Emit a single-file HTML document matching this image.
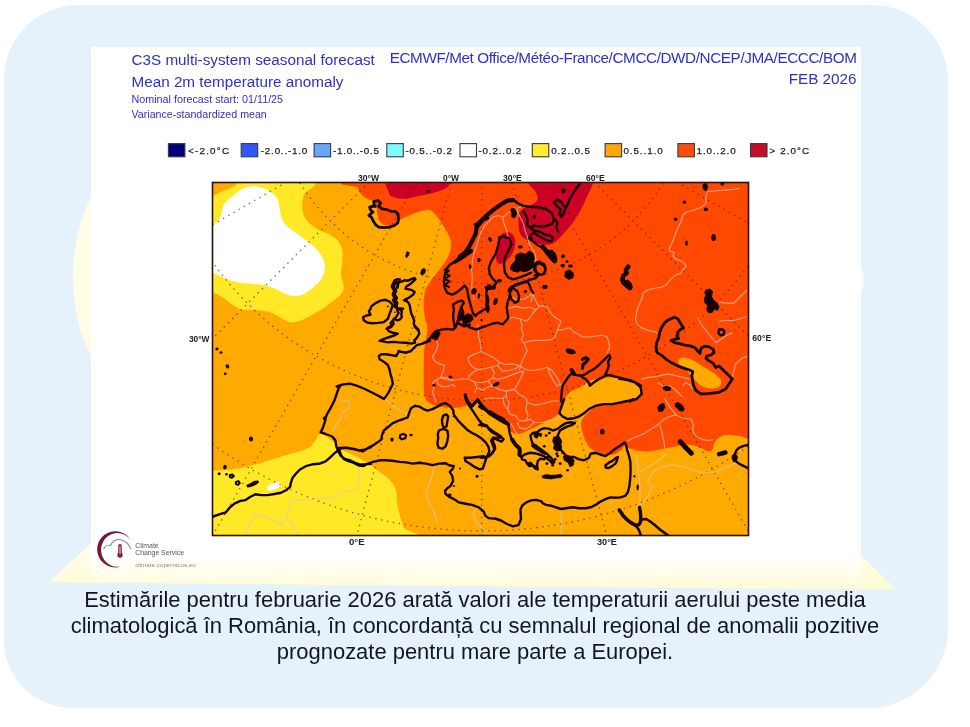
<!DOCTYPE html>
<html><head><meta charset="utf-8">
<style>
html,body{margin:0;padding:0;background:#fff;}
body{width:970px;height:727px;position:relative;overflow:hidden;font-family:"Liberation Sans",sans-serif;}
#bg{position:absolute;left:4.4px;top:4.6px;width:943.2px;height:703.6px;border-radius:74px 76px 80px 68px;background:#e5f1fb;filter:blur(0.5px);}
#main{position:absolute;left:0;top:0;width:970px;height:727px;}
.t,.cap{filter:blur(0.35px);}
.t{position:absolute;white-space:nowrap;color:#3030c8;line-height:1;}
.cap{position:absolute;left:0;width:950px;text-align:center;color:#15151f;font-size:21.95px;line-height:1;white-space:nowrap;}
</style></head><body>
<div id="bg"></div>
<svg id="main" width="970" height="727" viewBox="0 0 970 727">
<defs>
<linearGradient id="yg" gradientUnits="userSpaceOnUse" x1="0" y1="544" x2="0" y2="589"><stop offset="0" stop-color="#fffeec"/><stop offset="1" stop-color="#fffbd6"/></linearGradient>
<linearGradient id="yg2" gradientUnits="userSpaceOnUse" x1="0" y1="556" x2="0" y2="588"><stop offset="0" stop-color="#ffffff"/><stop offset="0.45" stop-color="#fffef0"/><stop offset="1" stop-color="#fffbd6"/></linearGradient>
<clipPath id="mapclip"><rect x="213" y="183" width="535" height="352"/></clipPath>
<filter id="b1" x="-2%" y="-2%" width="104%" height="104%"><feGaussianBlur stdDeviation="0.55"/></filter>
<filter id="b2" x="-5%" y="-5%" width="110%" height="110%"><feGaussianBlur stdDeviation="0.35"/></filter>
</defs>
<!-- pale yellow decorations -->
<ellipse cx="131" cy="277" rx="58" ry="109" fill="#fffde6"/>
<ellipse cx="823" cy="280" rx="41" ry="32" fill="#fffdf2"/>
<polygon points="90,544.5 48.5,582.2 896,589.6 861,555.5" fill="url(#yg)"/>
<rect x="91" y="47" width="770" height="511" fill="#ffffff"/>
<polygon points="91,556 861,556 861,589.3 91,582.6" fill="url(#yg2)"/>
<!--MAP-->
<g id="map" filter="url(#b1)">
<rect x="213" y="183" width="535" height="352" fill="#ffaa02"/>
<g clip-path="url(#mapclip)" id="regions">
<path d="M205.0,200.0C208.3,198.3 214.6,195.2 220.0,192.5C225.4,189.8 234.5,187.5 237.4,183.7C240.3,180.0 224.5,172.3 237.4,170.0C250.3,167.7 301.9,167.5 314.8,170.0C327.7,172.5 316.4,181.0 314.8,185.0C313.1,188.9 306.9,190.4 304.8,193.7C302.7,197.0 302.3,201.0 302.3,204.9C302.3,208.9 302.7,213.7 304.8,217.4C306.9,221.2 311.0,224.7 314.8,227.4C318.5,230.1 323.5,231.6 327.3,233.6C331.0,235.7 334.7,237.2 337.2,239.9C339.7,242.6 341.4,246.1 342.2,249.9C343.1,253.6 342.4,258.2 342.2,262.3C342.0,266.5 340.8,271.1 341.0,274.8C341.2,278.5 343.3,281.9 343.5,284.8C343.7,287.7 343.7,289.8 342.2,292.3C340.8,294.8 337.7,297.3 334.7,299.8C331.8,302.2 328.5,304.7 324.8,307.2C321.0,309.7 316.4,312.4 312.3,314.7C308.1,317.0 303.6,319.7 299.8,321.0C296.1,322.2 293.2,322.8 289.8,322.2C286.5,321.6 283.2,318.9 279.9,317.2C276.5,315.6 274.0,313.5 269.9,312.2C265.7,311.0 259.5,310.1 254.9,309.7C250.3,309.3 246.2,310.6 242.4,309.7C238.7,308.9 235.8,306.8 232.4,304.7C229.1,302.7 225.8,299.3 222.5,297.3C219.1,295.2 216.2,293.5 212.5,292.3C208.7,291.0 202.1,304.7 200.0,289.8C197.9,274.8 199.2,217.4 200.0,202.4C200.8,187.5 201.7,201.6 205.0,200.0Z" fill="#ffe926"/>
<path d="M202.5,227.4C204.2,219.7 209.6,226.6 212.5,224.9C215.4,223.2 218.1,220.7 220.0,217.4C221.8,214.1 221.6,208.5 223.7,204.9C225.8,201.4 229.3,198.9 232.4,196.2C235.6,193.5 238.7,190.4 242.4,188.7C246.2,187.1 250.7,186.0 254.9,186.2C259.1,186.4 263.6,187.9 267.4,190.0C271.1,192.0 275.3,195.4 277.4,198.7C279.4,202.0 279.0,206.4 279.9,209.9C280.7,213.5 280.7,216.8 282.3,219.9C284.0,223.0 286.5,225.7 289.8,228.6C293.2,231.6 298.1,234.3 302.3,237.4C306.5,240.5 311.5,244.0 314.8,247.4C318.1,250.7 320.6,254.0 322.3,257.3C323.9,260.7 324.8,264.0 324.8,267.3C324.8,270.6 323.9,274.2 322.3,277.3C320.6,280.4 317.7,283.3 314.8,286.0C311.9,288.7 308.1,291.8 304.8,293.5C301.5,295.2 298.1,296.0 294.8,296.0C291.5,296.0 288.2,294.8 284.8,293.5C281.5,292.3 278.6,290.0 274.9,288.5C271.1,287.1 267.0,285.6 262.4,284.8C257.8,283.9 252.4,284.2 247.4,283.5C242.4,282.9 236.6,282.1 232.4,281.0C228.3,280.0 225.8,278.7 222.5,277.3C219.1,275.9 215.8,273.8 212.5,272.8C209.2,271.8 204.2,278.6 202.5,271.1C200.8,263.5 200.8,235.1 202.5,227.4Z" fill="#ffffff"/>
<path d="M200.0,470.3C202.1,458.7 207.5,470.4 212.5,470.3C217.5,470.2 223.7,470.5 230.0,469.8C236.2,469.1 243.7,467.5 249.9,466.0C256.1,464.6 261.1,462.9 267.4,461.0C273.6,459.2 281.1,456.7 287.3,454.8C293.6,452.9 300.6,451.5 304.8,449.8C309.0,448.1 310.2,446.9 312.3,444.8C314.4,442.7 315.8,439.2 317.3,437.3C318.7,435.5 319.4,433.6 321.0,433.6C322.7,433.6 325.0,435.7 327.3,437.3C329.5,439.0 332.7,441.7 334.7,443.6C336.8,445.4 337.2,446.9 339.7,448.6C342.2,450.2 346.4,451.9 349.7,453.6C353.0,455.2 356.4,456.7 359.7,458.5C363.0,460.4 366.3,462.5 369.7,464.8C373.0,467.1 376.3,469.8 379.7,472.3C383.0,474.8 386.9,476.8 389.6,479.8C392.3,482.7 394.6,486.0 395.9,489.7C397.1,493.5 396.5,498.0 397.1,502.2C397.7,506.4 398.6,510.5 399.6,514.7C400.7,518.8 402.5,523.0 403.4,527.2C404.2,531.3 438.5,537.6 404.6,539.6C370.7,541.7 234.1,551.2 200.0,539.6C165.9,528.1 197.9,481.8 200.0,470.3Z" fill="#ffe926"/>
<path d="M267.4,486.7C268.1,485.7 270.5,484.2 272.4,483.5C274.2,482.7 277.1,482.1 278.6,482.2C280.1,482.4 281.1,483.3 281.1,484.2C281.1,485.2 280.1,486.7 278.6,487.7C277.1,488.7 274.2,489.9 272.4,490.2C270.6,490.6 268.7,490.3 267.9,489.7C267.0,489.1 266.6,487.8 267.4,486.7Z" fill="#ffffff"/>
<path d="M355.9,180.0C321.4,185.3 356.9,185.2 357.7,187.5C358.5,189.8 359.4,191.8 360.9,193.7C362.5,195.6 364.9,197.3 367.2,198.7C369.5,200.1 373.1,200.5 374.7,201.9C376.2,203.4 376.2,205.7 376.7,207.4C377.1,209.2 376.7,210.1 377.2,212.4C377.7,214.7 378.0,219.0 379.7,221.2C381.3,223.4 384.4,225.4 387.1,225.6C389.8,225.9 393.0,223.8 395.9,222.4C398.8,221.0 401.1,219.1 404.6,217.4C408.1,215.8 412.9,213.7 417.1,212.4C421.2,211.2 426.4,209.4 429.6,209.9C432.7,210.4 434.2,213.3 436.1,215.4C438.1,217.5 439.3,219.6 441.1,222.4C443.0,225.2 445.7,229.1 447.4,232.4C449.0,235.7 450.7,239.0 451.1,242.4C451.5,245.7 450.9,249.0 449.9,252.3C448.8,255.7 447.0,259.0 444.9,262.3C442.8,265.7 439.9,269.0 437.4,272.3C434.9,275.6 432.0,279.0 429.9,282.3C427.8,285.6 426.0,288.5 424.9,292.3C423.9,296.0 423.7,300.6 423.7,304.7C423.7,308.9 424.3,313.5 424.9,317.2C425.5,321.0 427.2,323.5 427.4,327.2C427.6,330.9 426.7,335.9 426.2,339.7C425.6,343.4 424.6,345.4 424.2,349.7C423.8,353.9 423.8,359.9 423.7,365.0C423.6,370.0 423.6,375.4 423.7,380.0C423.8,384.5 423.5,388.9 424.2,392.4C424.8,396.0 425.2,398.9 427.4,401.2C429.6,403.4 433.2,405.0 437.4,406.1C441.6,407.3 447.8,408.1 452.4,408.1C456.9,408.1 461.5,407.1 464.8,406.1C468.2,405.2 469.8,402.6 472.3,402.4C474.8,402.2 476.9,403.0 479.8,404.9C482.7,406.8 486.5,411.1 489.8,413.6C493.1,416.1 496.7,418.1 499.8,419.9C502.9,421.7 506.8,422.7 508.5,424.4C510.2,426.0 508.7,428.3 509.8,429.9C510.8,431.4 512.9,433.0 514.7,433.6C516.6,434.2 518.7,434.2 521.0,433.6C523.3,433.0 525.8,431.1 528.5,429.9C531.2,428.6 534.1,427.6 537.2,426.1C540.3,424.7 543.8,423.0 547.2,421.1C550.5,419.2 555.1,417.0 557.2,414.9C559.2,412.8 558.6,410.9 559.7,408.6C560.7,406.4 561.7,403.9 563.4,401.2C565.1,398.5 566.9,394.7 569.6,392.4C572.3,390.1 575.8,389.5 579.6,387.4C583.4,385.4 587.8,381.6 592.4,380.0C597.1,378.3 602.4,377.7 607.4,377.5C612.4,377.2 617.8,377.9 622.4,378.7C627.0,379.5 631.7,380.8 634.9,382.4C638.0,384.1 640.5,386.4 641.1,388.7C641.7,391.0 640.5,394.3 638.6,396.2C636.7,398.0 633.0,398.9 629.9,399.9C626.8,400.9 623.6,401.8 619.9,402.4C616.1,403.0 611.2,403.0 607.4,403.7C603.7,404.3 600.3,404.9 597.4,406.1C594.5,407.4 592.2,409.3 590.0,411.1C587.7,413.0 585.2,415.5 583.7,417.4C582.3,419.2 581.4,419.9 581.2,422.4C581.0,424.9 581.6,429.0 582.5,432.3C583.3,435.7 584.5,439.4 586.2,442.3C587.9,445.2 589.7,447.9 592.4,449.8C595.1,451.7 599.1,452.7 602.4,453.6C605.8,454.4 609.5,455.2 612.4,454.8C615.3,454.4 617.8,452.5 619.9,451.1C622.0,449.6 623.2,446.5 624.9,446.1C626.5,445.7 627.4,447.7 629.9,448.6C632.4,449.4 636.1,450.6 639.9,451.1C643.6,451.5 648.2,451.5 652.3,451.1C656.5,450.6 660.6,449.4 664.8,448.6C669.0,447.7 673.1,446.7 677.3,446.1C681.4,445.4 686.0,444.6 689.8,444.8C693.5,445.0 696.8,446.3 699.7,447.3C702.6,448.4 705.1,450.6 707.2,451.1C709.3,451.5 711.0,451.3 712.2,449.8C713.5,448.4 713.5,444.4 714.7,442.3C715.9,440.2 717.6,438.6 719.7,437.3C721.8,436.1 723.8,435.0 727.2,434.8C730.5,434.6 736.0,435.5 739.7,436.1C743.3,436.7 744.7,438.2 748.9,438.6C753.0,439.0 762.0,485.8 764.6,438.6C767.2,391.4 797.9,202.6 764.6,155.4C731.3,108.2 633.1,151.3 565.0,155.4C496.9,159.5 390.5,174.6 355.9,180.0Z" fill="#ff4802"/>
<path d="M678.5,360.0C679.4,358.7 682.1,357.3 684.8,357.5C687.5,357.7 691.4,359.6 694.7,361.2C698.1,362.9 701.4,365.4 704.7,367.5C708.0,369.6 712.0,371.6 714.7,373.7C717.4,375.8 720.1,377.9 720.9,380.0C721.8,382.0 721.1,384.7 719.7,386.2C718.2,387.6 715.1,388.7 712.2,388.7C709.3,388.7 705.1,387.6 702.2,386.2C699.3,384.7 697.2,382.4 694.7,380.0C692.2,377.5 689.8,373.7 687.3,371.2C684.8,368.7 681.2,366.9 679.8,365.0C678.3,363.1 677.7,361.2 678.5,360.0Z" fill="#ffaa02"/>
<path d="M388.7,170.0C378.3,173.8 387.7,187.9 388.7,192.5C389.8,197.0 392.3,196.4 395.0,197.5C397.7,198.5 401.2,198.9 405.0,198.7C408.7,198.5 413.3,197.0 417.4,196.2C421.6,195.4 425.8,194.8 429.9,193.7C434.1,192.7 439.1,191.6 442.4,190.0C445.7,188.3 448.4,187.1 449.9,183.7C451.3,180.4 461.3,172.3 451.1,170.0C440.9,167.7 399.1,166.3 388.7,170.0Z" fill="#cc0426"/>
<path d="M528.5,170.0C517.7,172.3 527.9,180.3 529.0,183.7C530.0,187.1 533.2,188.2 534.7,190.5C536.2,192.8 537.7,195.4 537.7,197.5C537.7,199.5 536.9,201.3 534.7,202.9C532.5,204.6 527.2,205.9 524.7,207.4C522.2,209.0 520.8,209.9 519.7,212.4C518.7,214.9 518.5,219.1 518.5,222.4C518.5,225.7 518.7,229.7 519.7,232.4C520.8,235.1 522.2,237.0 524.7,238.6C527.2,240.3 531.4,241.3 534.7,242.4C538.0,243.4 541.4,244.9 544.7,244.9C548.0,244.9 551.3,244.4 554.7,242.4C558.0,240.3 561.3,236.1 564.6,232.4C568.0,228.6 571.7,224.1 574.6,219.9C577.5,215.8 580.1,211.2 582.1,207.4C584.1,203.7 585.3,200.4 586.6,197.5C587.9,194.5 589.1,192.3 590.1,190.0C591.1,187.7 592.0,187.1 592.6,183.7C593.2,180.4 604.3,172.3 593.6,170.0C582.9,167.7 539.2,167.7 528.5,170.0Z" fill="#cc0426"/>
<path d="M498.5,239.9C499.4,238.0 500.4,234.9 502.3,233.6C504.1,232.4 507.7,231.8 509.8,232.4C511.8,233.0 513.9,234.9 514.7,237.4C515.6,239.9 515.6,244.0 514.7,247.4C513.9,250.7 511.8,254.6 509.8,257.3C507.7,260.0 504.3,262.7 502.3,263.6C500.2,264.4 498.3,263.8 497.3,262.3C496.2,260.9 496.0,257.8 496.0,254.8C496.0,251.9 496.9,247.4 497.3,244.9C497.7,242.4 497.7,241.7 498.5,239.9Z" fill="#cc0426"/>
</g>
<g clip-path="url(#mapclip)" id="lines">
<path d="M385.1,95.3L-194.4,250.6M395.1,119.4L-124.5,419.4M411.0,140.1L-13.3,564.4M431.7,156.0L131.7,675.6M455.8,166.0L300.5,745.5M481.7,169.4L481.7,769.4M507.6,166.0L662.9,745.5M531.7,156.0L831.7,675.6M552.4,140.1L976.7,564.4M568.3,119.4L1087.9,419.4M578.3,95.3L1157.8,250.6M20.2,69.4A461.5,461.5 0 0 0 943.2,69.4M150.6,69.4A331.1,331.1 0 0 0 812.8,69.4M267.5,69.4A214.2,214.2 0 0 0 695.9,69.4M376.5,69.4A105.2,105.2 0 0 0 586.9,69.4" fill="none" stroke="#3c2000" stroke-opacity="0.6" stroke-width="1.55" stroke-dasharray="0.1 5.9" stroke-linecap="round"/>
<path d="M435.7,338.3L438.2,344.9L435.7,351.5L432.4,356.4L434.9,361.4L439.8,363.9L444.8,365.5L443.1,371.3L440.6,377.9L446.4,379.5L453.0,380.4M432.4,382.8L436.5,379.5L441.5,377.1L447.2,377.9L453.0,380.4L458.0,379.5L462.9,378.7L467.9,379.5L469.5,375.4L474.5,371.3L477.8,369.6M436.5,379.5L438.2,384.5L443.1,387.0L448.1,386.1L453.0,384.5L455.5,387.0M432.4,382.8L434.0,387.8L432.4,392.7L434.9,397.7L435.7,402.7M477.8,323.4L478.6,336.6L480.3,343.2L481.1,350.6M467.9,358.1L472.8,354.8L481.1,351.5L487.7,354.8L494.3,358.1L499.3,362.2L497.6,365.5L491.0,367.2L484.4,368.8L477.8,369.6L472.8,367.2L469.5,363.0L467.9,358.1M491.0,367.2L494.3,372.9L492.7,377.9L487.7,381.2L481.1,382.8L474.5,382.0L469.5,379.5M499.3,362.2L505.9,364.7L512.5,363.9L519.1,365.5M497.6,365.5L502.6,371.3L509.2,370.5L515.8,368.8L519.1,365.5M492.7,377.9L497.6,379.5L505.9,377.1L512.5,374.6L519.1,372.1L524.0,371.3M519.1,365.5L525.7,369.6L533.9,370.5L542.2,368.8L547.1,367.2L552.1,370.5L557.1,377.9L560.4,384.5L562.8,387.8M547.1,367.2L550.4,374.6L553.8,381.2L557.1,386.1L560.4,384.5M524.0,371.3L520.7,377.9L517.4,384.5L514.1,389.4M487.7,381.2L492.7,386.1L499.3,389.4L505.9,391.1L514.1,389.4L519.1,394.4L525.7,397.7L527.3,402.7L535.6,405.1L543.8,403.5L552.1,401.0L558.7,401.0L562.8,402.7M474.5,382.0L477.0,387.8L482.7,390.3L487.7,387.0L492.7,386.1M477.0,387.8L474.5,392.7M484.4,399.4L489.4,397.7L496.0,398.5L502.6,398.5L505.9,396.1L506.7,391.9L505.9,391.1M527.3,402.7L525.7,409.3L528.2,415.9L525.7,420.8M505.9,396.1L509.2,402.7L507.5,409.3L510.0,414.2L515.8,415.9L519.1,420.8L525.7,420.8L530.6,419.2L533.9,422.5L542.2,422.5L550.4,420.0L557.1,419.2L560.4,415.9L565.3,416.7M502.6,398.5L504.2,404.3L507.5,409.3M509.2,422.5L512.5,425.8L514.9,430.7L517.4,434.0M517.4,422.5L519.1,427.4L525.7,429.1L530.6,425.8L533.9,422.5M514.5,207.2L511.2,210.5L507.1,213.9L502.9,217.2L503.8,222.9L506.2,229.5L507.9,236.1L508.7,240.3M502.9,217.2L498.0,215.5L493.0,217.2L488.9,221.3L484.8,225.4L481.5,231.2L479.0,237.8L476.5,246.1L474.0,252.7L472.4,260.9L471.6,269.2L472.4,277.4L471.6,285.7L473.2,293.9L474.0,300.0M521.1,206.4L517.0,208.1L517.8,213.0L521.1,218.8L523.6,224.6L525.2,231.2L527.7,237.8L529.4,244.4L532.7,249.4L535.1,254.3L536.0,259.3L534.3,264.2L531.8,269.2L529.4,272.5M529.4,280.7L530.2,287.3L532.7,293.9L531.0,302.2M508.1,318.8L513.0,317.2L519.6,318.8L526.2,321.3L529.5,318.0L532.8,313.0L536.1,309.7L539.4,306.4L542.7,305.6L547.7,307.2L549.4,311.4L552.7,315.5L557.6,318.8L560.9,321.3L559.3,325.4L557.6,329.5L560.9,330.4L565.9,328.7L570.0,327.9L572.5,331.2L577.4,333.7L582.4,337.0L589.0,337.0L595.6,336.1L602.2,335.3L607.1,337.0L608.8,341.9L609.6,347.7L608.0,351.0L606.3,353.5M519.6,318.8L522.1,324.6L521.3,329.5L523.8,334.5L521.3,339.4L523.8,342.7L525.4,346.1L527.1,351.0L524.6,356.0L522.1,360.9L520.5,365.9L519.6,370.0M523.8,342.7L529.5,341.1L537.8,340.3L546.1,340.3L552.7,339.4L555.1,337.0L557.6,329.5M511.4,297.3L518.0,299.8L524.6,299.0L529.5,295.7L532.8,292.9M532.8,292.9L534.5,298.2L537.0,303.1L539.4,306.4M508.9,308.1L515.5,306.4L522.9,308.1L529.5,307.2L536.1,309.7M738.9,188.3L735.6,189.1L727.3,189.9L717.4,190.7L707.5,191.6L705.9,196.5L705.9,203.1L702.6,206.4L697.6,208.9L692.7,210.5L686.1,212.2L682.7,215.5L681.1,221.3L677.8,227.9L675.3,234.5L672.8,241.1L669.5,247.7L669.5,251.0L674.5,252.7L672.8,256.0L676.1,259.3L681.1,260.9L684.4,263.4L686.1,266.7L682.7,270.0L681.1,273.3L676.1,274.9L672.8,277.4L669.5,280.7L666.2,284.9L661.3,287.3L654.7,288.2L648.1,289.8L643.1,293.1L641.5,300.0M641.5,299.8L638.2,306.4L636.5,313.0L635.7,319.6L637.3,324.6L641.5,327.9L648.1,330.4L654.7,332.0L659.6,333.7M747.1,289.9L740.5,296.5L733.9,303.1L725.7,303.1L719.1,302.3M697.6,318.0L702.6,326.2L709.2,334.5L715.8,342.7L720.7,339.4L725.7,336.1L732.3,332.8M719.1,321.3L725.7,320.5L733.9,320.5L740.5,318.8L747.1,316.3M747.1,356.0L740.5,359.3L735.6,364.2L733.9,370.8L732.3,377.4M641.5,379.1L648.1,377.4L656.3,376.6L662.9,374.9L669.5,374.1L676.1,375.8L682.7,377.4L689.4,379.1M658.0,382.4L662.9,385.7L669.5,385.7L674.5,389.0L679.4,393.9L682.7,397.2M682.7,385.7L686.1,382.4L691.0,385.7L692.7,389.0M627.4,441.3L633.2,438.0L639.8,435.5L646.4,432.2L653.0,428.1L658.0,424.8L662.9,419.8L669.5,416.5L676.1,414.9L669.5,406.6L664.6,398.3M659.6,424.8L662.1,433.0L663.8,441.3L664.6,447.9M676.1,414.9L682.7,418.2L691.0,419.0L693.5,424.8L692.7,431.4L696.0,436.3L702.6,439.6L709.2,440.5L713.3,439.6M341.0,399.9L348.5,401.2L349.7,407.4L342.2,412.4L339.7,419.9L334.7,427.4L332.2,432.3M383.4,397.4L394.6,407.4L407.1,413.6M359.4,467.1L358.6,477.8L357.8,491.0L347.1,491.0L338.8,492.7L335.5,496.8L325.6,498.4L317.3,499.3L302.5,500.1L292.6,500.9L288.4,507.5L286.8,515.8L281.8,524.9L271.1,519.1L255.4,513.8L249.6,524.0L244.7,535.6M286.8,515.8L292.6,525.7L299.2,535.6M434.1,466.1L432.5,474.3L430.0,482.6L425.9,492.5L429.2,502.4L434.1,512.3L437.4,522.2M561.0,507.0L561.5,520.0L561.0,536.0M478.0,506.0L473.0,513.0L476.0,522.0L484.0,530.0L486.0,536.0M636.1,454.8L637.4,464.8L638.6,474.8L639.9,484.7L639.9,494.7L639.9,507.2M639.9,507.2L647.3,497.2L652.3,487.2L647.3,482.2L652.3,472.3L659.8,467.3L672.3,464.8L684.8,467.3L699.7,472.3L714.7,472.3L727.2,467.3L737.2,462.3M639.9,472.3L649.8,466.0L659.8,459.8L666.0,453.6" fill="none" stroke="#d2cac2" stroke-opacity="0.68" stroke-width="1.15" stroke-linejoin="round"/>
<path d="M444.8,269.8L448.9,270.6L445.6,273.9L449.7,275.6L444.8,278.9L449.4,281.4L445.1,284.7L448.9,287.2M229.8,475.3L232.3,474.5L233.9,476.1L231.8,477.8L229.8,477.0L229.8,475.3M235.9,481.9L238.4,481.1L239.7,483.1L238.1,484.9L235.9,484.1L235.9,481.9" fill="none" stroke="#140500" stroke-width="2.0" stroke-linejoin="round" stroke-linecap="round"/>
<path d="M554.1,218.8L557.4,222.9L556.6,227.9L558.2,232.0M400.3,435.0L403.6,433.9L406.1,435.5L405.2,438.3L401.9,439.3L399.8,437.6L400.3,435.0" fill="none" stroke="#140500" stroke-width="2.2" stroke-linejoin="round" stroke-linecap="round"/>
<path d="M371.4,306.4L375.5,303.1L380.5,300.6L385.4,299.8L389.5,301.5L392.8,304.8L391.2,309.7L389.5,313.9L387.9,318.8L383.8,322.1L378.0,322.9L372.2,323.3L367.2,322.6L363.9,320.5L363.1,317.2L366.4,315.5L370.5,314.7L368.9,311.4L370.5,308.9L371.4,306.4M394.8,280.7L397.3,279.1L399.8,279.5L398.9,282.4L401.4,281.6L404.7,280.3L408.0,280.7L411.3,279.1L414.6,277.9L415.5,279.1L413.0,281.6L410.9,283.6L408.8,284.9L406.4,286.5L405.5,288.6L408.8,289.4L412.1,290.2L414.6,291.9L413.4,294.4L411.3,296.0L408.8,297.7L406.4,298.9L403.9,300.2L406.4,301.0L408.4,302.6L409.7,305.5L410.5,309.7L411.3,313.8L413.0,317.1L414.2,320.4L413.8,323.7L415.0,327.0L417.9,330.1M415.1,326.2L418.4,329.5L419.3,333.7L416.8,337.8L414.3,340.3L415.1,342.7L411.0,343.6L406.1,342.7L399.4,342.4L392.8,341.9L387.9,342.4L382.9,341.4L379.6,340.8L384.6,338.6L389.5,337.0L394.5,335.3L397.8,333.7L392.8,332.8L388.7,331.2L387.1,328.7L391.2,327.1L393.7,323.8L392.8,320.5L396.1,317.2L398.6,313.0L397.0,309.7M397.3,308.0L399.8,309.3L401.8,311.3L401.4,314.6L401.8,317.1L399.8,319.6L397.3,320.4L394.0,318.8L392.3,321.2L390.7,322.9L391.5,325.4L389.0,327.0L386.5,328.7M395.6,306.4L397.7,308.2L403.1,308.8M430.0,340.8L422.6,343.6L416.8,345.2L414.3,347.7L411.0,351.0L406.1,352.7L401.1,351.8L398.6,351.0L397.8,353.5L396.1,356.0L391.2,355.1L386.2,354.3L381.3,354.3L378.8,356.0L379.6,359.3L383.8,361.7L387.9,365.0L389.5,369.2L390.4,374.1L392.0,379.1L392.8,384.0L391.2,387.3L388.7,392.3L385.4,397.2L383.8,398.9L378.0,395.6L371.4,392.3L364.8,389.0L356.5,385.7L349.9,383.7L343.3,384.4L336.7,386.5M420.0,344.5L426.6,341.6L432.4,335.9L435.7,331.2L441.5,329.6L447.2,328.9L453.0,329.6L455.5,327.6L457.2,322.7L458.8,317.7L459.6,311.9L461.3,307.0L463.8,302.8L462.1,300.4L457.2,302.0L453.0,304.5L453.9,309.4L453.0,316.1L453.9,322.7L454.7,327.6M461.3,307.0L463.3,312.7L462.6,319.4L464.6,324.3L469.5,327.3L476.1,329.6L481.1,327.6L486.1,326.0L492.7,323.5L497.6,322.7L502.6,324.3L505.9,321.0L508.3,317.7L507.5,312.7L506.7,307.8L507.5,302.8L509.2,297.9L510.0,292.9L509.2,289.6L512.5,288.0L517.4,291.3L519.1,296.2L518.2,301.2L514.9,302.8L511.6,299.5L510.0,294.6M469.5,251.7L464.6,255.0L458.8,258.3L453.9,262.4L449.7,264.9L446.4,269.0L444.8,274.8L443.9,281.4L444.8,288.0L447.2,292.9L452.2,294.6L457.2,292.1L461.3,288.8L464.6,285.5L467.1,288.8L467.9,294.6L469.5,301.2L471.2,307.0L472.8,312.7L475.3,316.1L477.8,313.6L481.9,311.1L486.1,308.6L487.7,304.5L486.9,298.7L486.1,292.9L487.7,288.8L492.7,287.2M534.8,275.1L538.1,275.6L535.6,278.1L530.6,279.7L525.7,281.4L520.7,283.0L514.9,284.7L510.8,287.2L509.2,289.6M535.6,264.9L539.7,263.2L543.8,265.7L545.8,269.8L543.8,273.9L539.7,274.8L536.4,272.3L535.3,268.2L535.6,264.9M458.3,257.6L465.8,251.8L469.9,246.1L473.2,239.4L476.5,232.8L477.3,227.1L480.6,221.3L484.8,217.2L489.7,212.2L495.5,208.1L501.3,203.9L507.1,200.1L512.8,199.8L517.0,202.8L522.7,205.6L529.4,206.8L537.6,207.2L545.9,208.9L551.6,212.7L554.1,218.3L552.5,223.3L547.5,225.7L540.9,226.6L534.3,225.7L530.2,227.6L526.9,224.6L527.7,220.5L526.1,215.5L523.6,211.4M530.2,227.6L533.5,230.4L539.3,231.5L545.0,234.8L550.5,235.5L552.8,238.1L551.6,241.4L546.7,240.3L541.7,237.5L537.6,235.3L534.3,232.8L531.0,234.5L529.4,237.8L532.7,241.1L537.6,245.2L542.6,247.7L545.9,252.7L550.0,257.6L554.1,261.7M579.7,184.1L576.4,188.3L573.1,193.2L570.3,198.2L568.2,203.1L565.7,208.1L563.7,213.0L561.6,216.7L559.1,213.9L560.7,209.7L557.4,206.4L554.1,202.3L557.4,199.8L561.6,202.3L564.0,206.4M498.8,237.8L502.9,236.1L509.5,238.6L511.5,244.4L508.2,251.0L504.9,257.6L503.9,264.2L504.9,272.5L508.2,277.4L513.2,279.4L519.8,277.4L526.4,274.9L531.3,272.5M499.6,238.1L498.0,246.1L495.5,254.3L491.4,260.9L488.9,267.5L489.7,274.1L493.0,279.1L496.7,282.4L493.0,287.3L486.4,289.0M535.1,263.4L539.3,261.7L544.2,264.2L545.9,269.2L543.4,274.1L539.3,274.9L535.1,271.6L533.5,267.5L535.1,263.4M560.9,401.4L561.7,392.3L562.6,385.7L565.9,380.7L569.2,375.8L572.5,372.5L575.8,374.9L580.7,375.8L585.7,374.1L589.0,371.6L593.9,369.2L598.9,365.0L603.0,360.9L607.1,356.8L609.6,355.1L610.4,357.6L608.0,361.7L608.8,365.9L607.1,370.8L605.5,374.1L607.1,374.9L612.1,375.8L618.7,377.4L625.3,379.1L631.9,380.7L636.9,383.2L641.0,385.7M582.4,377.4L585.7,379.1L589.0,383.2L589.8,385.7L593.9,382.4L598.9,379.1L603.8,376.6L607.1,374.9M509.7,289.9L514.7,285.8L521.3,283.3L527.9,281.7L529.5,285.0L531.2,289.9L533.2,292.9M211.7,517.1L219.9,514.1L225.7,512.5L229.8,507.5L234.8,503.4L240.5,500.9L245.5,500.1L250.5,496.8L255.4,494.3L261.2,495.1L267.8,495.1L274.4,494.0L281.0,492.7L286.0,490.2L290.1,486.9L290.9,482.7L292.6,477.8L295.9,473.7L300.0,469.5L305.8,466.2L312.4,464.3L319.0,463.8L325.6,461.3L330.5,457.2L334.7,453.0L338.0,450.5L340.4,455.5L344.6,458.8L350.4,460.5L355.3,462.9L360.3,464.6L365.2,464.3L371.0,463.8M325.6,419.2L323.9,425.0L322.3,429.1L320.6,432.4L325.6,434.0L332.2,436.5L335.5,440.6L336.3,446.4L338.0,450.5L342.1,448.1L347.1,447.7L353.7,448.9L359.4,450.5L364.4,449.7L371.0,447.2M339.2,447.9L345.0,447.6L351.6,448.7L358.2,450.4L363.1,451.2L368.1,447.9L373.0,445.4L377.2,442.6L381.3,439.6L382.1,434.7L383.8,430.5L387.9,427.2L392.8,423.1L398.6,420.6L403.6,419.0L407.7,417.3L409.4,412.4L411.0,408.3L415.1,405.8L419.3,406.6L423.4,409.1L427.5,410.7L432.5,409.1L437.4,406.6L441.6,404.1L445.7,403.3L449.8,405.8L453.1,409.9L453.9,414.9L456.4,418.2L458.9,421.5L463.0,425.6L467.1,429.7L472.1,433.0L477.1,435.5L482.0,438.8L486.1,442.9L488.6,447.1L489.4,451.2L487.8,454.5L486.1,457.8L489.4,456.1L492.7,452.8L495.2,448.7L494.4,444.6L492.7,441.3L494.4,438.0L501.0,437.2M467.1,399.2L468.8,405.0L472.1,409.9L475.4,414.9L478.7,419.8L482.0,423.9L487.0,425.6L488.6,428.9L491.9,432.2L496.9,434.7L501.0,436.3M339.2,449.5L340.8,454.5L343.3,458.6L348.3,461.1L353.2,462.7L358.2,465.2L363.1,466.1L368.1,463.6L373.0,461.9L379.6,460.3L386.2,460.3L392.8,460.8L399.4,461.9L406.1,462.4L412.7,463.6L419.3,462.7L425.9,463.6L432.5,465.2L439.1,463.6L445.7,463.2L449.0,465.2L453.9,466.1L452.3,469.4L449.8,471.8L452.3,476.0L453.1,480.9L450.6,485.9L447.3,488.3L444.9,490.8L445.7,494.1L449.0,496.6L453.9,499.1L458.9,502.4L465.5,503.7L472.1,504.9L478.7,507.3L483.7,511.5L485.3,515.6L488.6,518.1L494.4,518.6M443.2,415.7L446.5,414.5L448.2,416.5L447.3,421.5L446.5,426.4L444.0,428.1L442.4,424.8L442.0,419.8L443.2,415.7M439.1,430.5L443.2,428.9L447.3,430.5L448.2,435.5L447.3,441.3L445.7,446.2L442.4,448.7L438.7,447.9L437.4,443.8L438.2,438.0L437.8,433.9L439.1,430.5M464.7,457.8L470.4,457.8L477.1,457.0L483.7,456.1L486.1,458.6L484.5,463.6L482.8,468.5L479.5,469.4L474.6,466.9L469.6,463.6L465.5,461.1L464.7,457.8M341.0,384.9L338.5,388.7L337.2,392.4L334.7,399.9L331.0,407.4L327.3,413.6L324.8,419.4M479.2,424.8L486.6,426.4L493.2,431.4L499.8,435.5L503.6,439.3L501.5,441.6L496.5,439.3L493.2,437.6L491.2,440.5L492.9,445.4L494.5,449.5L491.6,453.7L487.4,457.0L482.5,457.8L479.2,457.0M479.2,406.6L485.0,409.9L491.6,414.9L498.2,418.2L504.8,420.6L508.1,423.1L508.9,428.1L509.7,433.0L511.4,438.8L514.7,443.8L518.8,447.9L520.5,451.2L518.8,455.3L521.3,457.0L524.6,454.5L529.5,452.8L534.5,453.2L539.4,454.5L543.6,456.1L546.1,457.8L543.6,459.4L540.3,458.6L537.8,461.1L537.0,465.2L537.8,469.4L535.3,468.5L532.8,465.2L529.5,466.1L527.1,463.6L525.4,460.3L522.1,459.4L521.3,457.0M546.1,457.8L549.4,460.3L552.7,463.6L554.3,461.9L551.0,457.8L547.7,454.5L544.4,452.0L541.1,449.5L536.1,447.1L532.8,443.8L531.2,439.6L530.4,435.5L532.8,433.0L537.0,432.2L540.3,429.7L544.4,428.1L549.4,428.9L552.7,430.5L557.6,428.9L561.7,425.6L565.9,423.1L570.8,422.3L574.9,423.1L572.5,424.8L567.5,426.4L562.6,428.9L560.1,430.5M605.5,465.2L608.8,462.7L612.1,461.1L616.2,457.8L617.9,457.0L617.1,460.3L615.4,463.6L612.1,466.1L608.8,468.0L605.8,467.7L605.5,465.2M564.2,399.2L562.6,403.3L560.9,408.3L559.3,413.2L562.6,416.5L567.5,419.0L574.1,418.2L579.1,416.5L584.0,413.2L589.0,409.1L595.6,405.8L603.8,404.1L612.1,404.1L620.4,402.5L628.6,400.8L633.6,399.2M560.1,430.5L557.6,435.5L560.9,441.3L559.3,447.9L563.4,452.8L567.5,457.0L574.1,457.0L579.1,459.4L584.0,460.3L589.0,457.8L590.6,453.7L595.6,452.8L600.5,454.5L605.5,456.1L610.4,452.8L615.4,448.7L620.4,445.4L624.5,442.6L626.1,444.6L627.0,449.5L628.6,454.5L630.3,461.1L630.6,469.4L630.3,477.6L629.4,485.9L627.8,492.5L625.3,495.8L620.4,497.4L615.4,497.8L610.4,497.4L605.5,499.1L600.5,501.6L595.6,504.9L590.6,507.3L585.7,508.2L579.1,508.2L572.5,507.3L565.9,508.2L560.9,509.0L556.0,507.3L551.0,505.7L546.1,504.9L542.7,503.2L541.1,501.1L536.1,499.9L531.2,500.4L526.2,502.4L522.1,505.7L520.5,509.8M495.0,518.5L501.0,520.5L507.0,524.0L513.0,526.3L518.5,525.0L521.0,519.0L520.5,511.0M749.6,444.3L743.0,446.2L738.9,447.9L736.4,450.4L733.9,456.1L734.8,460.3L738.9,463.6L743.8,466.1L749.6,469.0M719.1,329.5L722.4,329.2L724.4,331.5L723.7,334.5L720.7,335.3L718.4,333.2L719.1,329.5M619.2,378.7L626.6,379.9L634.9,382.4L640.6,387.3L641.8,393.9L636.5,399.2L629.9,401.4" fill="none" stroke="#140500" stroke-width="2.4" stroke-linejoin="round" stroke-linecap="round"/>
<path d="M635.9,525.4L638.8,529.7L640.4,533.9L641.4,536.7M640.8,519.8L646.2,519.0L649.5,521.0L654.5,524.8L660.2,529.7L666.0,533.9L669.8,536.7" fill="none" stroke="#140500" stroke-width="2.6" stroke-linejoin="round" stroke-linecap="round"/>
<path d="M373.9,201.5L378.0,200.6L380.5,203.1L378.8,206.4L382.1,208.9L387.1,209.7L391.2,211.4L395.3,211.4L397.8,213.9L398.6,218.8L397.8,222.9L394.5,225.4L389.5,227.1L383.8,227.6L378.8,227.1L375.5,224.6L373.0,220.5L371.4,217.2L368.9,215.5L370.5,213.9L373.0,212.2L370.5,209.7L369.7,207.2L372.2,206.4L375.5,206.4L373.9,203.9L373.9,201.5M674.5,317.2L677.8,318.8L680.3,322.9L683.6,327.9L680.3,329.5L677.8,332.0L677.0,336.1L678.6,338.6L674.5,339.4L671.2,340.3L674.5,342.7L679.4,343.6L685.2,345.2L691.0,346.1L695.1,347.7L697.6,351.0L700.1,353.5L700.9,348.5L704.2,346.1L709.2,346.9L713.3,349.4L714.1,352.7L710.8,355.1L706.7,356.0L705.9,358.4L709.2,360.9L713.3,363.4L715.8,367.5L719.1,365.9L722.4,369.2L727.3,374.1L732.3,379.1L729.0,384.0L725.7,389.0L719.1,392.3L712.5,393.1L705.9,393.9L700.9,393.9L696.0,390.6L693.5,385.7L692.7,380.7L691.8,375.8L692.7,371.6L689.4,370.0L684.4,368.3L677.8,365.9L671.2,362.6L666.2,359.3L661.3,355.1L657.2,352.7L656.0,347.7L656.7,342.7L658.8,337.8L659.6,332.8L661.3,327.9L664.6,322.9L668.7,319.6L674.5,317.2" fill="none" stroke="#140500" stroke-width="2.8" stroke-linejoin="round" stroke-linecap="round"/>
<path d="M398.1,282.4L397.3,287.4M458.8,323.5L463.8,326.0L469.5,325.1M488.0,299.5L487.4,304.5L488.4,309.1M487.4,296.5L486.6,304.8L487.9,311.4" fill="none" stroke="#140500" stroke-width="3.0" stroke-linejoin="round" stroke-linecap="round"/>
<path d="M582.4,359.3L585.7,357.6L588.2,359.3L585.7,362.6L583.2,364.2L582.4,368.3" fill="none" stroke="#140500" stroke-width="3.2" stroke-linejoin="round" stroke-linecap="round"/>
<path d="M465.3,394.9L466.8,401.2L471.8,406.1L475.3,402.4L477.8,399.9L481.1,404.9L489.8,413.6L499.8,419.9L508.5,424.4M639.6,507.4L640.4,512.4L640.8,517.3L640.4,522.3L638.9,524.6L635.9,525.4" fill="none" stroke="#140500" stroke-width="3.4" stroke-linejoin="round" stroke-linecap="round"/>
<path d="M619.3,509.9L621.0,512.4L623.1,515.7L626.4,519.0L629.7,521.9L633.0,523.9L635.9,525.4" fill="none" stroke="#140500" stroke-width="3.6" stroke-linejoin="round" stroke-linecap="round"/>
<path d="M455.5,261.6L459.6,259.1L463.3,256.6L467.9,253.3L471.2,250.8M475.7,224.6L479.8,223.8L483.1,219.6L487.2,218.0M571.6,370.0L574.1,374.1M512.2,439.6L515.5,444.6L519.6,448.7L519.6,454.5M622.5,280.0L625.0,283.3L627.4,286.6L630.7,287.4L629.9,284.1L627.4,281.7" fill="none" stroke="#140500" stroke-width="4.0" stroke-linejoin="round" stroke-linecap="round"/>
<path d="M395.2,281.2L392.7,286.5L395.2,290.7L393.6,294.8L396.0,298.1L394.0,300.2L396.3,303.1L395.6,306.4M460.0,256.3L465.0,252.7L469.1,246.9L472.4,240.3L475.7,233.7L476.5,227.9L479.8,222.1L484.8,217.2L490.5,212.2L496.3,207.7L502.1,203.6L507.9,200.3L513.2,200.1" fill="none" stroke="#140500" stroke-width="4.2" stroke-linejoin="round" stroke-linecap="round"/>
<path d="M432.4,336.7L435.7,332.6L438.2,333.4L435.7,338.3M542.6,246.9L546.7,251.0L550.8,256.0L554.9,260.9M489.9,412.4L496.5,416.5L503.1,419.8M719.1,454.2L725.4,452.5M628.3,266.7L625.8,270.0L626.6,273.3L623.3,275.8L622.5,279.1L624.1,283.2L627.4,285.7L629.9,288.2" fill="none" stroke="#140500" stroke-width="4.5" stroke-linejoin="round" stroke-linecap="round"/>
<path d="M512.8,210.5L514.5,213.0L513.7,215.5M680.3,441.6L684.4,446.2L689.4,451.2L691.3,453.2" fill="none" stroke="#140500" stroke-width="5" stroke-linejoin="round" stroke-linecap="round"/>
<path d="M406.9,251.8L409.4,252.7L408.5,255.1L406.9,257.6L405.6,256.8L406.1,254.3ZM421.7,270.0L425.0,269.2L424.2,272.5L421.7,274.9L420.6,273.3ZM458.3,313.6L461.3,311.9L463.3,315.2L462.1,319.4L459.6,321.0L457.6,317.7ZM463.8,316.1L467.9,313.6L472.0,315.2L473.2,319.4L469.5,322.7L465.4,323.5L463.3,320.2ZM512.5,264.0L515.8,259.9L519.1,255.8L523.2,254.1L527.3,255.0L530.6,253.3L533.9,256.6L532.3,261.6L533.9,265.7L530.6,269.8L525.7,271.5L520.7,270.6L517.4,272.3L513.3,270.6L510.0,268.2ZM548.0,250.8L552.1,250.0L555.4,253.3L557.1,259.1L554.6,263.2L551.3,260.7L548.8,256.6ZM565.3,271.5L569.4,269.8L573.6,273.1L572.7,278.1L568.6,279.4L565.3,276.4ZM516.1,255.1L520.3,252.7L525.2,254.3L529.4,251.0L533.5,253.5L534.3,259.3L532.7,265.9L528.5,270.0L523.6,271.6L518.6,270.0L513.7,271.6L510.4,269.2L512.0,264.2L516.1,261.7L515.3,257.6ZM565.9,350.2L570.0,349.0L574.1,350.7L575.4,353.0L571.6,354.0L567.5,353.0ZM620.4,280.0L624.5,280.8L628.6,283.3L631.9,286.6L629.4,289.1L625.3,286.6L622.0,284.1ZM485.0,286.6L489.9,285.8L495.7,286.6L494.9,289.1L489.1,289.6L485.0,288.6ZM246.7,485.2L250.5,483.6L253.8,481.4L257.9,480.8L258.7,482.4L255.4,484.7L251.3,486.4L247.6,487.2ZM533.7,433.9L537.8,432.7L541.9,433.9L541.1,436.7L538.6,435.5L537.0,438.3L534.5,437.2ZM532.0,443.3L536.1,444.6L540.3,447.9L544.4,451.2L546.1,454.5L542.7,453.7L538.6,451.2L534.5,448.7L531.5,446.2ZM553.5,437.2L557.6,436.3L560.9,439.6L559.3,442.9L561.7,446.2L560.9,450.4L556.8,451.2L553.5,448.7L554.3,444.6L552.7,441.3ZM563.4,456.1L567.5,455.3L571.6,457.0L574.1,460.3L573.3,465.2L570.0,466.9L568.3,462.7L564.2,460.3ZM527.9,462.7L531.2,461.9L533.7,465.2L537.0,466.1L537.8,469.7L535.3,469.0L532.0,466.4L528.7,466.1ZM541.9,476.0L546.1,474.6L551.0,475.3L556.0,475.1L560.9,474.3L562.6,476.0L560.9,477.6L556.0,477.9L551.0,478.9L546.1,478.4L542.7,477.9ZM657.6,407.4L660.5,404.1L663.8,403.6L664.9,407.4L662.6,411.2L658.8,411.6ZM675.3,403.3L678.6,402.5L682.7,405.8L684.4,409.6L681.9,411.6L677.8,409.1L675.3,406.3ZM732.3,455.3L735.6,453.7L737.6,457.0L736.4,461.1L733.6,461.9L732.0,458.6ZM705.9,289.9L710.0,289.1L712.5,291.6L711.6,296.5L713.3,299.8L717.4,303.1L719.1,307.2L717.4,310.5L714.1,308.9L712.5,312.2L709.2,313.0L706.7,309.7L707.5,305.6L705.0,303.1L704.2,299.0L705.9,294.9L705.0,292.4ZM663.3,387.0L667.1,386.0L670.9,387.7L670.4,390.3L666.2,390.6L663.3,389.3ZM703.4,184.1L706.7,183.6L707.8,187.4L706.2,190.7L703.6,189.6L702.6,186.6Z" fill="#140500" stroke="#140500" stroke-width="0.8" stroke-linejoin="round"/>
<g fill="#140500"><ellipse cx="428.3" cy="191.6" rx="2.0" ry="1.5" transform="rotate(0 428.3 191.6)"/><ellipse cx="394.8" cy="312.3" rx="1.0" ry="0.8" transform="rotate(0 394.8 312.3)"/><ellipse cx="387.8" cy="306.4" rx="1.0" ry="0.8" transform="rotate(0 387.8 306.4)"/><ellipse cx="474.0" cy="291.3" rx="2.6" ry="3.3" transform="rotate(20 474.0 291.3)"/><ellipse cx="478.9" cy="295.9" rx="1.2" ry="3.0" transform="rotate(10 478.9 295.9)"/><ellipse cx="470.0" cy="266.5" rx="1.2" ry="2.0" transform="rotate(0 470.0 266.5)"/><ellipse cx="489.4" cy="285.5" rx="2.3" ry="1.3" transform="rotate(0 489.4 285.5)"/><ellipse cx="496.0" cy="301.5" rx="1.5" ry="3.6" transform="rotate(15 496.0 301.5)"/><ellipse cx="481.6" cy="320.2" rx="1.3" ry="1.0" transform="rotate(0 481.6 320.2)"/><ellipse cx="562.8" cy="256.6" rx="1.7" ry="1.7" transform="rotate(0 562.8 256.6)"/><ellipse cx="567.0" cy="261.6" rx="1.5" ry="1.5" transform="rotate(0 567.0 261.6)"/><ellipse cx="571.1" cy="265.7" rx="1.5" ry="1.5" transform="rotate(0 571.1 265.7)"/><ellipse cx="545.0" cy="286.7" rx="2.6" ry="2.0" transform="rotate(0 545.0 286.7)"/><ellipse cx="570.6" cy="351.1" rx="5.0" ry="2.1" transform="rotate(15 570.6 351.1)"/><ellipse cx="423.3" cy="271.5" rx="2.3" ry="3.3" transform="rotate(20 423.3 271.5)"/><ellipse cx="510.0" cy="290.5" rx="2.6" ry="2.0" transform="rotate(0 510.0 290.5)"/><ellipse cx="525.7" cy="291.3" rx="1.3" ry="1.3" transform="rotate(0 525.7 291.3)"/><ellipse cx="563.5" cy="190.9" rx="2.3" ry="2.3" transform="rotate(0 563.5 190.9)"/><ellipse cx="534.3" cy="216.7" rx="1.7" ry="2.0" transform="rotate(0 534.3 216.7)"/><ellipse cx="490.1" cy="239.4" rx="1.7" ry="2.6" transform="rotate(-30 490.1 239.4)"/><ellipse cx="520.3" cy="246.9" rx="2.6" ry="1.7" transform="rotate(0 520.3 246.9)"/><ellipse cx="479.0" cy="260.1" rx="1.7" ry="2.3" transform="rotate(0 479.0 260.1)"/><ellipse cx="470.2" cy="266.7" rx="1.3" ry="2.3" transform="rotate(0 470.2 266.7)"/><ellipse cx="530.7" cy="238.6" rx="2.3" ry="1.7" transform="rotate(0 530.7 238.6)"/><ellipse cx="563.2" cy="256.0" rx="1.7" ry="1.7" transform="rotate(0 563.2 256.0)"/><ellipse cx="562.7" cy="265.5" rx="2.3" ry="1.7" transform="rotate(0 562.7 265.5)"/><ellipse cx="570.3" cy="266.2" rx="2.3" ry="1.3" transform="rotate(0 570.3 266.2)"/><ellipse cx="569.0" cy="275.4" rx="4.6" ry="3.6" transform="rotate(0 569.0 275.4)"/><ellipse cx="545.0" cy="287.0" rx="2.3" ry="2.0" transform="rotate(0 545.0 287.0)"/><ellipse cx="499.6" cy="280.4" rx="2.6" ry="1.5" transform="rotate(0 499.6 280.4)"/><ellipse cx="544.7" cy="286.9" rx="2.6" ry="2.0" transform="rotate(0 544.7 286.9)"/><ellipse cx="496.2" cy="384.4" rx="3.3" ry="1.7" transform="rotate(-25 496.2 384.4)"/><ellipse cx="495.2" cy="301.5" rx="1.7" ry="3.6" transform="rotate(15 495.2 301.5)"/><ellipse cx="524.9" cy="291.9" rx="1.3" ry="1.3" transform="rotate(0 524.9 291.9)"/><ellipse cx="219.1" cy="473.7" rx="1.5" ry="1.5" transform="rotate(0 219.1 473.7)"/><ellipse cx="226.5" cy="474.2" rx="1.3" ry="1.3" transform="rotate(0 226.5 474.2)"/><ellipse cx="251.0" cy="439.0" rx="2.1" ry="2.5" transform="rotate(-20 251.0 439.0)"/><ellipse cx="224.9" cy="467.1" rx="1.8" ry="2.3" transform="rotate(15 224.9 467.1)"/><ellipse cx="392.0" cy="439.6" rx="1.7" ry="2.1" transform="rotate(0 392.0 439.6)"/><ellipse cx="411.0" cy="435.0" rx="1.7" ry="1.2" transform="rotate(0 411.0 435.0)"/><ellipse cx="477.1" cy="476.3" rx="1.5" ry="1.5" transform="rotate(0 477.1 476.3)"/><ellipse cx="460.0" cy="468.5" rx="1.0" ry="1.0" transform="rotate(0 460.0 468.5)"/><ellipse cx="453.9" cy="485.9" rx="1.0" ry="1.0" transform="rotate(0 453.9 485.9)"/><ellipse cx="449.8" cy="494.9" rx="1.7" ry="1.3" transform="rotate(0 449.8 494.9)"/><ellipse cx="453.9" cy="416.5" rx="1.3" ry="0.8" transform="rotate(0 453.9 416.5)"/><ellipse cx="546.1" cy="435.5" rx="1.5" ry="1.3" transform="rotate(0 546.1 435.5)"/><ellipse cx="549.4" cy="433.0" rx="1.5" ry="1.3" transform="rotate(0 549.4 433.0)"/><ellipse cx="544.4" cy="446.2" rx="1.5" ry="1.3" transform="rotate(0 544.4 446.2)"/><ellipse cx="547.7" cy="457.0" rx="1.5" ry="1.3" transform="rotate(0 547.7 457.0)"/><ellipse cx="551.0" cy="461.1" rx="1.5" ry="1.3" transform="rotate(0 551.0 461.1)"/><ellipse cx="555.1" cy="459.4" rx="1.5" ry="1.3" transform="rotate(0 555.1 459.4)"/><ellipse cx="557.6" cy="456.1" rx="1.5" ry="1.3" transform="rotate(0 557.6 456.1)"/><ellipse cx="552.7" cy="465.2" rx="1.5" ry="1.3" transform="rotate(0 552.7 465.2)"/><ellipse cx="546.9" cy="463.6" rx="1.5" ry="1.3" transform="rotate(0 546.9 463.6)"/><ellipse cx="560.1" cy="463.6" rx="1.5" ry="1.3" transform="rotate(0 560.1 463.6)"/><ellipse cx="567.5" cy="470.2" rx="1.5" ry="1.3" transform="rotate(0 567.5 470.2)"/><ellipse cx="556.8" cy="453.7" rx="1.5" ry="1.3" transform="rotate(0 556.8 453.7)"/><ellipse cx="562.6" cy="452.8" rx="1.5" ry="1.3" transform="rotate(0 562.6 452.8)"/><ellipse cx="602.2" cy="431.7" rx="2.3" ry="2.8" transform="rotate(0 602.2 431.7)"/><ellipse cx="637.7" cy="487.2" rx="1.2" ry="3.0" transform="rotate(0 637.7 487.2)"/><ellipse cx="634.4" cy="476.3" rx="1.0" ry="1.2" transform="rotate(0 634.4 476.3)"/><ellipse cx="722.4" cy="184.1" rx="2.0" ry="1.5" transform="rotate(0 722.4 184.1)"/><ellipse cx="684.4" cy="202.3" rx="1.7" ry="1.7" transform="rotate(0 684.4 202.3)"/><ellipse cx="705.9" cy="209.4" rx="2.1" ry="1.8" transform="rotate(0 705.9 209.4)"/><ellipse cx="675.6" cy="219.3" rx="1.8" ry="1.7" transform="rotate(0 675.6 219.3)"/><ellipse cx="686.5" cy="243.2" rx="1.3" ry="2.6" transform="rotate(0 686.5 243.2)"/><ellipse cx="713.6" cy="237.5" rx="2.3" ry="3.6" transform="rotate(0 713.6 237.5)"/><ellipse cx="496.0" cy="384.2" rx="3.6" ry="1.5" transform="rotate(-30 496.0 384.2)"/><ellipse cx="434.0" cy="385.3" rx="1.7" ry="1.2" transform="rotate(0 434.0 385.3)"/><ellipse cx="450.5" cy="377.1" rx="2.0" ry="1.5" transform="rotate(0 450.5 377.1)"/><ellipse cx="217.0" cy="349.0" rx="1.6" ry="1.4" transform="rotate(0 217.0 349.0)"/><ellipse cx="221.0" cy="352.5" rx="1.5" ry="1.3" transform="rotate(0 221.0 352.5)"/><ellipse cx="227.5" cy="366.3" rx="1.7" ry="2.2" transform="rotate(-30 227.5 366.3)"/><ellipse cx="225.2" cy="373.8" rx="1.4" ry="1.4" transform="rotate(0 225.2 373.8)"/><ellipse cx="324.6" cy="418.2" rx="2.0" ry="1.6" transform="rotate(-30 324.6 418.2)"/></g>
</g>
<rect x="212.5" y="182.5" width="536" height="353" fill="none" stroke="#2a1200" stroke-width="1.6"/>
</g>
<g filter="url(#b2)">
<rect x="168.4" y="143.6" width="16.5" height="13.2" fill="#00007f" stroke="#3a3a3a" stroke-width="1.1"/>
<text x="188.0" y="154.4" font-family="Liberation Sans, sans-serif" font-size="9.8" fill="#1c1c1c" stroke="#1c1c1c" stroke-width="0.25" textLength="41.0" lengthAdjust="spacing" xml:space="preserve">&lt;-2.0°C</text>
<rect x="241.2" y="143.6" width="16.5" height="13.2" fill="#3054ff" stroke="#3a3a3a" stroke-width="1.1"/>
<text x="260.8" y="154.4" font-family="Liberation Sans, sans-serif" font-size="9.8" fill="#1c1c1c" stroke="#1c1c1c" stroke-width="0.25" textLength="46.4" lengthAdjust="spacing" xml:space="preserve">-2.0..-1.0</text>
<rect x="314.1" y="143.6" width="16.5" height="13.2" fill="#66a6ff" stroke="#3a3a3a" stroke-width="1.1"/>
<text x="333.0" y="154.4" font-family="Liberation Sans, sans-serif" font-size="9.8" fill="#1c1c1c" stroke="#1c1c1c" stroke-width="0.25" textLength="46.0" lengthAdjust="spacing" xml:space="preserve">-1.0..-0.5</text>
<rect x="386.8" y="143.6" width="16.5" height="13.2" fill="#7ffcff" stroke="#3a3a3a" stroke-width="1.1"/>
<text x="405.5" y="154.4" font-family="Liberation Sans, sans-serif" font-size="9.8" fill="#1c1c1c" stroke="#1c1c1c" stroke-width="0.25" textLength="46.5" lengthAdjust="spacing" xml:space="preserve">-0.5..-0.2</text>
<rect x="460.0" y="143.6" width="16.5" height="13.2" fill="#ffffff" stroke="#3a3a3a" stroke-width="1.1"/>
<text x="478.4" y="154.4" font-family="Liberation Sans, sans-serif" font-size="9.8" fill="#1c1c1c" stroke="#1c1c1c" stroke-width="0.25" textLength="42.9" lengthAdjust="spacing" xml:space="preserve">-0.2..0.2</text>
<rect x="532.3" y="143.6" width="16.5" height="13.2" fill="#ffeb35" stroke="#3a3a3a" stroke-width="1.1"/>
<text x="551.2" y="154.4" font-family="Liberation Sans, sans-serif" font-size="9.8" fill="#1c1c1c" stroke="#1c1c1c" stroke-width="0.25" textLength="38.7" lengthAdjust="spacing" xml:space="preserve">0.2..0.5</text>
<rect x="605.1" y="143.6" width="16.5" height="13.2" fill="#ffa50c" stroke="#3a3a3a" stroke-width="1.1"/>
<text x="623.4" y="154.4" font-family="Liberation Sans, sans-serif" font-size="9.8" fill="#1c1c1c" stroke="#1c1c1c" stroke-width="0.25" textLength="39.3" lengthAdjust="spacing" xml:space="preserve">0.5..1.0</text>
<rect x="677.9" y="143.6" width="16.5" height="13.2" fill="#ff4d10" stroke="#3a3a3a" stroke-width="1.1"/>
<text x="696.6" y="154.4" font-family="Liberation Sans, sans-serif" font-size="9.8" fill="#1c1c1c" stroke="#1c1c1c" stroke-width="0.25" textLength="39.0" lengthAdjust="spacing" xml:space="preserve">1.0..2.0</text>
<rect x="750.5" y="143.6" width="16.5" height="13.2" fill="#c80a28" stroke="#3a3a3a" stroke-width="1.1"/>
<text x="769.5" y="154.4" font-family="Liberation Sans, sans-serif" font-size="9.8" fill="#1c1c1c" stroke="#1c1c1c" stroke-width="0.25" textLength="39.7" lengthAdjust="spacing" xml:space="preserve">&gt; 2.0°C</text>

</g>
<g filter="url(#b2)">
<g id="axlabels" font-family="Liberation Sans, sans-serif" font-size="8.6" font-weight="bold" fill="#222">
<text x="357.9" y="181" textLength="21.1" lengthAdjust="spacingAndGlyphs">30°W</text>
<text x="443" y="181" textLength="16" lengthAdjust="spacingAndGlyphs">0°W</text>
<text x="503" y="181" textLength="18.9" lengthAdjust="spacingAndGlyphs">30°E</text>
<text x="586" y="181" textLength="18.7" lengthAdjust="spacingAndGlyphs">60°E</text>
<text x="188.9" y="342" textLength="20.4" lengthAdjust="spacingAndGlyphs">30°W</text>
<text x="752.3" y="340.5" textLength="18.9" lengthAdjust="spacingAndGlyphs">60°E</text>
<text x="349" y="544.8" textLength="15.6" lengthAdjust="spacingAndGlyphs">0°E</text>
<text x="597" y="544.8" textLength="19.9" lengthAdjust="spacingAndGlyphs">30°E</text>
</g>
<g id="logo">
<path d="M130.8,540.4 A18,18 0 1 0 121.5,566.2 A16.3,16.8 0 1 1 130.8,540.4Z" fill="#7a1232"/>
<path d="M103.6,549.2 C105,546 108,544.5 110.5,545.5 C112,541 117,538.5 121.5,540 C126,541 129,544.5 130.8,549" fill="none" stroke="#8a8088" stroke-width="1.1"/>
<rect x="118.2" y="544" width="3.6" height="10.5" rx="1.8" fill="#8a2040"/>
<circle cx="120" cy="555" r="2.7" fill="#8a2040"/>
<rect x="119.3" y="546" width="1.4" height="8" fill="#d9a0b0"/>
<g font-family="Liberation Sans, sans-serif" fill="#5a5560">
<text x="135.2" y="547.6" font-size="6.4" textLength="23.5" lengthAdjust="spacingAndGlyphs">Climate</text>
<text x="135.2" y="555.2" font-size="6.4" textLength="48.8" lengthAdjust="spacingAndGlyphs">Change Service</text>
<text x="135.2" y="567.4" font-size="5.6" fill="#8a878c" textLength="60.6" lengthAdjust="spacingAndGlyphs">climate.copernicus.eu</text>
</g>
</g>

</g>
</svg>
<div class="t" style="left:131.5px;top:52.2px;font-size:15.25px;">C3S multi-system seasonal forecast</div>
<div class="t" style="left:131.5px;top:73.5px;font-size:15.25px;">Mean 2m temperature anomaly</div>
<div class="t" style="left:131.5px;top:94.3px;font-size:10.75px;">Nominal forecast start: 01/11/25</div>
<div class="t" style="left:131.5px;top:108.6px;font-size:10.65px;">Variance-standardized mean</div>
<div class="t" style="right:113.5px;top:50.2px;font-size:15.25px;letter-spacing:-0.39px;">ECMWF/Met Office/Météo-France/CMCC/DWD/NCEP/JMA/ECCC/BOM</div>
<div class="t" style="right:113.5px;top:70.9px;font-size:15.25px;">FEB 2026</div>
<div class="cap" style="top:589.2px;">Estimările pentru februarie 2026 arată valori ale temperaturii aerului peste media</div>
<div class="cap" style="top:615.4px;">climatologică în România, în concordanță cu semnalul regional de anomalii pozitive</div>
<div class="cap" style="top:641.4px;">prognozate pentru mare parte a Europei.</div>

</body></html>
